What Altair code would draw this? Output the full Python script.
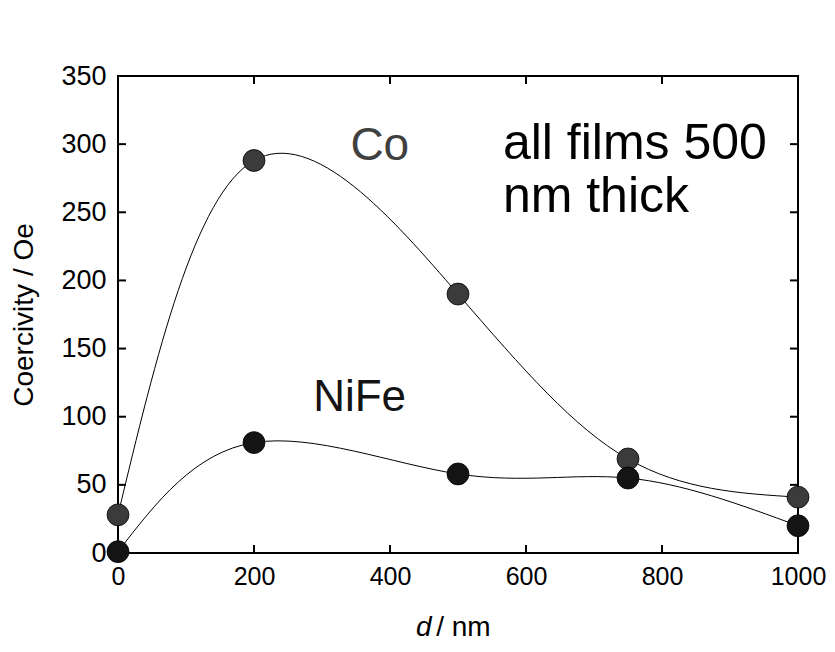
import altair as alt
import pandas as pd

d_nm = [0, 200, 500, 750, 1000]
co_vals = [28, 288, 190, 69, 41]
nife_vals = [1, 81, 58, 55, 20]
x_ticks = [200, 400, 600, 800]
y_ticks = [50, 100, 150, 200, 250, 300]
x_labels = [0, 200, 400, 600, 800, 1000]
y_labels = [0, 50, 100, 150, 200, 250, 300, 350]

W, H = 680, 477

rows = []
for x, v in zip(d_nm, co_vals):
    rows.append({"d": x, "c": v, "s": "Co"})
for x, v in zip(d_nm, nife_vals):
    rows.append({"d": x, "c": v, "s": "NiFe"})
df = pd.DataFrame(rows)

xs = alt.Scale(domain=[0, 1000], nice=False, zero=False)
ys = alt.Scale(domain=[0, 350], nice=False, zero=False)
FONT = "Liberation Sans"

xax = alt.Axis(values=x_labels, format="d", labelPadding=11, title=None, labelFontSize=25)
yax = alt.Axis(values=y_labels, format="d", labelPadding=12, title="Coercivity / Oe", titlePadding=22,
               labelFontSize=27)

def X(f):
    return alt.X(f, scale=xs, axis=xax)

def Y(f):
    return alt.Y(f, scale=ys, axis=yax)

base = alt.Chart(df)

lines = base.mark_line(interpolate="natural", color="black", strokeWidth=1).encode(
    x=X("d:Q"), y=Y("c:Q"), detail="s:N",
)

points = base.mark_point(filled=True, size=480, opacity=1, stroke="black", strokeWidth=0.8).encode(
    x=X("d:Q"), y=Y("c:Q"),
    fill=alt.Fill("s:N", scale=alt.Scale(domain=["Co", "NiFe"], range=["#3b3b3b", "#141414"]), legend=None),
)

xt = pd.DataFrame({"d": x_ticks})
yt = pd.DataFrame({"c": y_ticks})
tick_b = alt.Chart(xt).mark_rule(color="black", strokeWidth=2).encode(
    x=X("d:Q"), y=alt.value(H), y2=alt.value(H - 8))
tick_t = alt.Chart(xt).mark_rule(color="black", strokeWidth=2).encode(
    x=X("d:Q"), y=alt.value(0), y2=alt.value(8))
tick_l = alt.Chart(yt).mark_rule(color="black", strokeWidth=2).encode(
    y=Y("c:Q"), x=alt.value(0), x2=alt.value(8))
tick_r = alt.Chart(yt).mark_rule(color="black", strokeWidth=2).encode(
    y=Y("c:Q"), x=alt.value(W), x2=alt.value(W - 8))

ann_text = ["Co", "NiFe", "all films 500", "nm thick"]
ann_x = [385, 287, 566, 566]
ann_y = [299, 114, 300, 261]
ann_color = ["#404040", "#141414", "black", "black"]
ann_size = [46, 44, 50, 50]
ann_align = ["center", "left", "left", "left"]
ann = pd.DataFrame({"t": ann_text, "d": ann_x, "c": ann_y, "col": ann_color,
                    "sz": ann_size, "al": ann_align})

ann_c = alt.Chart(ann[ann.al == "center"]).mark_text(
    font=FONT, align="center", baseline="middle").encode(
    x=X("d:Q"), y=Y("c:Q"), text="t:N",
    color=alt.Color("col:N", scale=None), size=alt.Size("sz:Q", scale=None))
ann_l = alt.Chart(ann[ann.al == "left"]).mark_text(
    font=FONT, align="left", baseline="middle").encode(
    x=X("d:Q"), y=Y("c:Q"), text="t:N",
    color=alt.Color("col:N", scale=None), size=alt.Size("sz:Q", scale=None))

xtitle = pd.DataFrame({"t": ["d", "/ nm"], "d": [461, 468]})
xt_d = alt.Chart(xtitle.iloc[[0]]).mark_text(
    fontSize=28, font=FONT, fontStyle="italic", align="right", baseline="middle", color="black").encode(
    x=X("d:Q"), y=alt.value(H + 75), text="t:N")
xt_n = alt.Chart(xtitle.iloc[[1]]).mark_text(
    fontSize=28, font=FONT, align="left", baseline="middle", color="black").encode(
    x=X("d:Q"), y=alt.value(H + 75), text="t:N")

chart = alt.layer(lines, points, tick_b, tick_t, tick_l, tick_r, ann_c, ann_l, xt_d, xt_n).properties(
    width=W, height=H,
    autosize=alt.AutoSizeParams(type="none"),
    padding={"left": 110, "top": 68, "right": 29, "bottom": 91},
    background="white",
).configure_view(stroke="black", strokeWidth=2).configure_axis(
    labelFont=FONT, labelColor="black", labelFlush=False,
    titleFontSize=28, titleFont=FONT, titleFontWeight="normal", titleColor="black",
    ticks=False, domain=False, grid=False,
)

chart.save("out.html", embed_options={"renderer": "svg", "actions": False})
